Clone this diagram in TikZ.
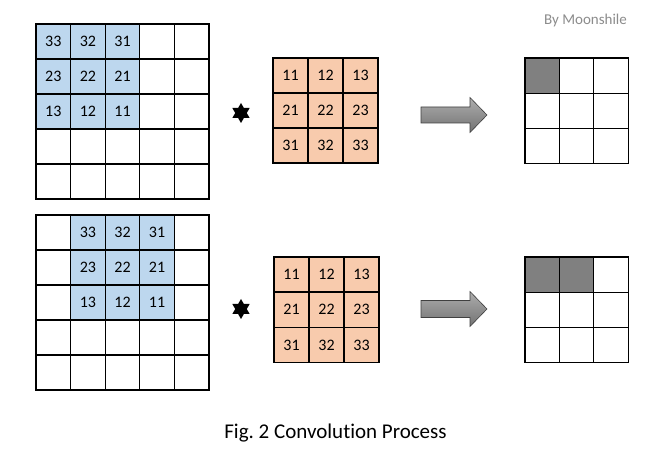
\documentclass[tikz,border=0pt]{standalone}
\usepackage{fontspec}
\setmainfont{Carlito}[Ligatures=NoCommon]
\frenchspacing
\definecolor{cellblue}{HTML}{BDD7EE}
\definecolor{cellorange}{HTML}{F8CBAD}
\definecolor{cellgray}{HTML}{808080}
\definecolor{signgray}{HTML}{8C8C8C}
\tikzset{
  cell/.style={draw=black, line width=1.2pt, inner sep=0pt, outer sep=0pt, anchor=north west,
    font=\fontsize{16}{18}\selectfont},
  bigcell/.style={cell, minimum width=34.6pt, minimum height=35pt},
  kcell/.style={cell, fill=cellorange, minimum width=35pt, minimum height=35pt},
  ocell/.style={cell, minimum width=34.4pt, minimum height=35.2pt},
  bigarrow/.style={draw=black!75, line width=0.6pt, top color=black!32, bottom color=black!55},
}
\newcommand{\convstarat}[2]{%
  \fill[black] (#1,#2) ++(90:10) -- ++(-120:17.32) -- ++(0:17.32) -- cycle;
  \fill[black] (#1,#2) ++(-90:10) -- ++(120:17.32) -- ++(0:17.32) -- cycle;
}
\begin{document}
\begin{tikzpicture}[x=1pt,y=-1pt]
\useasboundingbox (0,0) rectangle (665,454);
\fill[white] (0,0) rectangle (665,454);
% ---------- top row ----------
\foreach \r in {0,...,4}{
  \foreach \c in {0,...,4}{
    \node[bigcell] (A-\r-\c) at ({36+34.6*\c},{24+35*\r}) {};
  }
}
\foreach \r/\c/\t in {0/0/33,0/1/32,0/2/31,1/0/23,1/1/22,1/2/21,2/0/13,2/1/12,2/2/11}{
  \node[bigcell, fill=cellblue] (AB-\r-\c) at ({36+34.6*\c},{24+35*\r}) {\t};
}
\foreach \r/\c/\t in {0/0/11,0/1/12,0/2/13,1/0/21,1/1/22,1/2/23,2/0/31,2/1/32,2/2/33}{
  \node[kcell] (K-\r-\c) at ({273+35*\c},{58+35*\r}) {\t};
}
\foreach \r in {0,...,2}{
  \foreach \c in {0,...,2}{
    \node[ocell] (O-\r-\c) at ({525+34.4*\c},{58+35.2*\r}) {};
  }
}
\node[ocell, fill=cellgray] (OG-0-0) at (525,58) {};
\begin{scope}[y=1pt]
\convstarat{241}{-113}
\end{scope}
\draw[bigarrow] (421,107) -- (470,107) -- (470,97.5) -- (487,115) -- (470,132.5) -- (470,123) -- (421,123) -- cycle;
% ---------- bottom row ----------
\foreach \r in {0,...,4}{
  \foreach \c in {0,...,4}{
    \node[bigcell] (B-\r-\c) at ({36+34.6*\c},{215+35*\r}) {};
  }
}
\foreach \r/\c/\t in {0/1/33,0/2/32,0/3/31,1/1/23,1/2/22,1/3/21,2/1/13,2/2/12,2/3/11}{
  \node[bigcell, fill=cellblue] (BB-\r-\c) at ({36+34.6*\c},{215+35*\r}) {\t};
}
\foreach \r/\c/\t in {0/0/11,0/1/12,0/2/13,1/0/21,1/1/22,1/2/23,2/0/31,2/1/32,2/2/33}{
  \node[kcell] (L-\r-\c) at ({274+35*\c},{257+35.2*\r}) {\t};
}
\foreach \r in {0,...,2}{
  \foreach \c in {0,...,2}{
    \node[ocell] (P-\r-\c) at ({525+34.4*\c},{257+35.2*\r}) {};
  }
}
\node[ocell, fill=cellgray] (PG-0-0) at (525,257) {};
\node[ocell, fill=cellgray] (PG-0-1) at (559.4,257) {};
\begin{scope}[y=1pt]
\convstarat{241}{-309}
\end{scope}
\draw[bigarrow] (421,300.5) -- (470,300.5) -- (470,291.5) -- (487,309) -- (470,326.5) -- (470,317.5) -- (421,317.5) -- cycle;
% ---------- texts ----------
\node[text=signgray, font=\fontsize{15}{17}\selectfont] (sig) at (585.5,21) {By Moonshile};
\node[font=\fontsize{21}{24}\selectfont] (cap) at (335.5,433) {Fig. 2 Convolution Process};
\end{tikzpicture}
\end{document}
